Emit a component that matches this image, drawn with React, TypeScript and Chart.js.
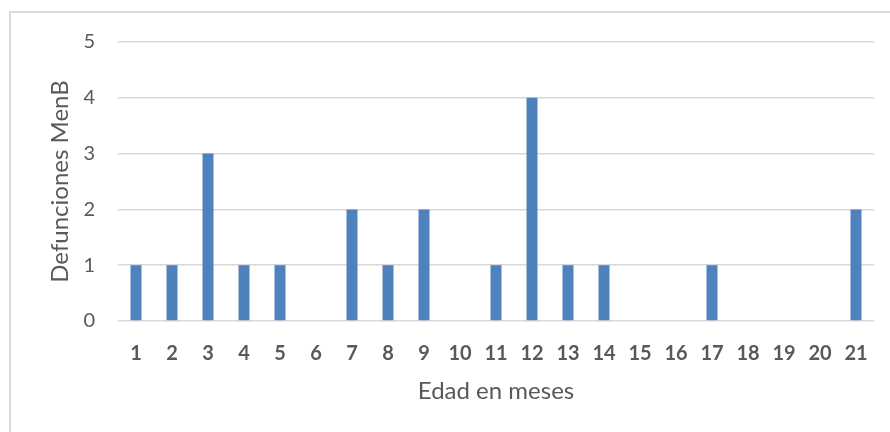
import React, { useEffect, useRef } from "react";
import { Chart, registerables } from "chart.js";

Chart.register(...registerables);

const categories = ["1","2","3","4","5","6","7","8","9","10","11","12","13","14","15","16","17","18","19","20","21"];
const deaths = [1,1,3,1,1,0,2,1,2,0,1,4,1,1,0,0,1,0,0,0,2];
const yTitle = "Defunciones MenB";
const xTitle = "Edad en meses";

const FONT = "Lato, 'Open Sans', sans-serif";
const TEXT = "#595959";

export default function App() {
  const ref = useRef<HTMLCanvasElement>(null);
  useEffect(() => {
    if (!ref.current) return;
    const chart = new Chart(ref.current, {
      type: "bar",
      data: {
        labels: categories,
        datasets: [{
          data: deaths,
          backgroundColor: "#4F81BD",
          borderWidth: 0,
          categoryPercentage: 1,
          barPercentage: 0.305,
        }],
      },
      options: {
        animation: false,
        responsive: false,
        maintainAspectRatio: false,
        layout: { padding: { top: 42, right: 16, left: 0, bottom: 0 } },
        plugins: { legend: { display: false }, tooltip: { enabled: false } },
        scales: {
          x: {
            grid: { display: false, drawTicks: false },
            border: { display: false },
            ticks: { color: TEXT, font: { family: FONT, size: 20, weight: "bold" }, padding: 21, maxRotation: 0, autoSkip: false },
            title: { display: true, text: xTitle, color: TEXT, font: { family: FONT, size: 24 }, padding: { top: 0, bottom: 26 } },
            afterFit: (s: any) => { s.height = 111; },
          },
          y: {
            min: 0, max: 5,
            grid: { color: "#d9d9d9", lineWidth: 1.5, drawTicks: false },
            border: { display: false },
            ticks: { stepSize: 1, color: TEXT, font: { family: FONT, size: 20 }, padding: 23 },
            title: { display: true, text: yTitle, color: TEXT, font: { family: FONT, size: 24 }, padding: { top: 46, bottom: 0 } },
            afterFit: (s: any) => { s.width = 118; },
          },
        },
      },
    });
    return () => chart.destroy();
  }, []);
  return (
    <div style={{ position: "fixed", left: 0, top: 0, width: 890, height: 432, background: "#fff", overflow: "hidden" }}>
      <div style={{ position: "absolute", left: 9, top: 11, width: 900, height: 440, borderLeft: "2px solid #d9d9d9", borderTop: "2px solid #d9d9d9", boxSizing: "border-box" }} />
      <canvas ref={ref} width={890} height={432} style={{ position: "absolute", left: 0, top: 0 }} />
    </div>
  );
}
